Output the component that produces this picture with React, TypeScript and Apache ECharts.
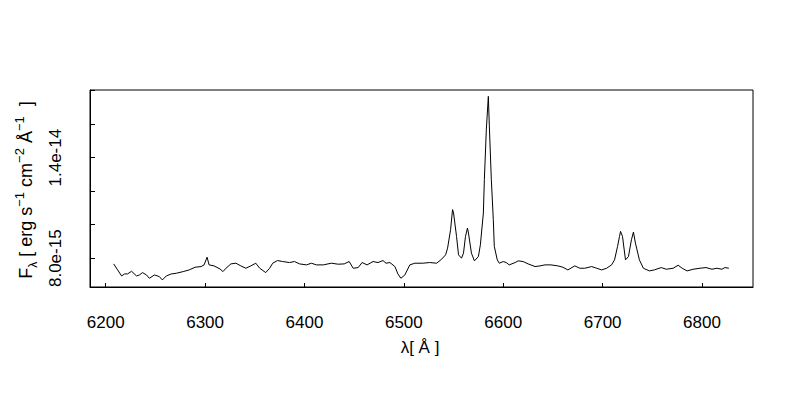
import React, { useEffect, useRef } from "react";
import * as echarts from "echarts";

// Wavelength in Å
const wavelength = [
  6208, 6212, 6216, 6219, 6222, 6226, 6231, 6234, 6237, 6241, 6244, 6249, 6254, 6257, 6261, 6266, 6271, 6278,
  6284, 6290, 6296, 6299, 6302, 6304, 6309, 6315, 6318, 6321, 6326, 6331, 6336, 6341, 6346, 6351, 6355, 6361,
  6365, 6368, 6373, 6378, 6385, 6390, 6395, 6402, 6407, 6412, 6419, 6427, 6434, 6440, 6445, 6449, 6454, 6458,
  6463, 6469, 6474, 6479, 6482, 6486, 6491, 6494, 6497, 6501, 6506, 6511, 6519, 6526,
  6533, 6538, 6542, 6544, 6547, 6549, 6550, 6553, 6555, 6558, 6560, 6562, 6564, 6565, 6568, 6571, 6575, 6577,
  6580, 6581, 6583, 6585, 6586, 6588, 6590, 6591, 6594, 6596, 6600, 6603, 6606, 6612, 6615, 6620, 6625, 6632,
  6637, 6642, 6648, 6655, 6660, 6665, 6672, 6677, 6682, 6689, 6694, 6699, 6704, 6709, 6712, 6715, 6717, 6718,
  6720, 6723, 6726, 6729, 6731, 6733, 6737, 6741, 6747, 6752, 6759, 6764, 6771, 6776, 6780, 6785, 6791, 6798,
  6804, 6810, 6815, 6820, 6823, 6827,
];

// Flux density in units of 1e-15 erg s^-1 cm^-2 Å^-1
const flux = [
  7.66, 7.3, 6.94, 7.06, 7.06, 7.22, 6.94, 7.0, 7.14, 7.0, 6.8, 7.0, 6.9, 6.7, 6.94, 7.06, 7.1, 7.2,
  7.3, 7.46, 7.5, 7.6, 8.06, 7.6, 7.54, 7.36, 7.2, 7.4, 7.66, 7.7, 7.54, 7.4, 7.54, 7.7, 7.4, 7.14,
  7.4, 7.7, 7.86, 7.8, 7.74, 7.8, 7.66, 7.6, 7.7, 7.6, 7.6, 7.7, 7.64, 7.66, 7.8, 7.4, 7.44, 7.74,
  7.6, 7.8, 7.74, 7.86, 7.7, 7.74, 7.5, 7.06, 6.8, 7.0, 7.6, 7.7, 7.7, 7.74,
  7.7, 7.94, 8.2, 8.6, 9.7, 10.9, 10.7, 9.3, 8.2, 8.0, 8.3, 9.3, 9.8, 9.5, 8.3, 7.84, 8.1, 8.8,
  10.7, 12.7, 15.7, 17.66, 15.9, 12.7, 10.3, 8.7, 7.9, 7.7, 7.8, 7.74, 7.6, 7.74, 7.84, 7.8, 7.66, 7.5,
  7.54, 7.6, 7.6, 7.54, 7.46, 7.3, 7.54, 7.4, 7.4, 7.5, 7.4, 7.3, 7.4, 7.6, 7.9, 8.7, 9.3, 9.6,
  9.3, 7.9, 8.1, 9.1, 9.56, 8.9, 7.9, 7.4, 7.24, 7.3, 7.44, 7.34, 7.4, 7.58, 7.4, 7.24, 7.34, 7.4,
  7.44, 7.34, 7.4, 7.34, 7.44, 7.4,
];

const FLUX_UNIT = 1e-15;
const xTickValues = [6200, 6300, 6400, 6500, 6600, 6700, 6800];
const yTickValues = [8, 10, 12, 14, 16, 18];
const yLabelValues = [8, 14];

const FONT = '"Liberation Sans", Arial, Helvetica, sans-serif';

export default function App() {
  const ref = useRef<HTMLDivElement>(null);

  useEffect(() => {
    if (!ref.current) return;
    const chart = echarts.init(ref.current, undefined, { renderer: "svg" });
    const data = wavelength.map((w, i) => [w, flux[i]]);
    chart.setOption({
      animation: false,
      backgroundColor: "#ffffff",
      grid: {
        left: 90,
        right: 47,
        top: 90,
        bottom: 113,
        show: true,
        borderColor: "#000",
        borderWidth: 1,
        backgroundColor: "transparent",
      },
      xAxis: {
        type: "value",
        min: 6184.2,
        max: 6851.3,
        axisLine: { show: true, lineStyle: { color: "#000", width: 1 } },
        axisTick: { show: true, inside: true, length: 4, lineStyle: { color: "#000" }, customValues: xTickValues },
        axisLabel: {
          show: true,
          customValues: xTickValues,
          margin: 27,
          color: "#000",
          fontSize: 17,
          fontFamily: FONT,
          formatter: (v: number) => String(v),
        },
        splitLine: { show: false },
      },
      yAxis: {
        type: "value",
        min: 6.28,
        max: 18.04,
        axisLine: { show: true, lineStyle: { color: "#000", width: 1 } },
        axisTick: { show: true, inside: true, length: 5, lineStyle: { color: "#000" }, customValues: yTickValues },
        axisLabel: {
          show: true,
          customValues: yLabelValues,
          rotate: 90,
          margin: 26,
          color: "#000",
          fontSize: 17,
          fontFamily: FONT,
          formatter: (v: number) => (v * FLUX_UNIT).toExponential(1),
        },
        splitLine: { show: false },
      },
      series: [
        {
          type: "line",
          data,
          showSymbol: false,
          symbol: "none",
          lineStyle: { color: "#000", width: 1 },
          silent: true,
        },
      ],
      graphic: [
        {
          type: "text",
          x: 420,
          y: 347,
          style: {
            text: "λ[ Å ]",
            fill: "#000",
            font: `17px ${FONT}`,
            align: "center",
            verticalAlign: "middle",
          },
        },
        {
          type: "text",
          x: 26,
          y: 190,
          rotation: Math.PI / 2,
          style: {
            text: "{m|F}{sub|λ}{m| [ erg s}{sup|−1}{m| cm}{sup|−2}{m| Å}{sup|−1}{m|  ]}",
            fill: "#000",
            align: "center",
            verticalAlign: "middle",
            rich: {
              m: { fontSize: 18, fontFamily: FONT, lineHeight: 26, verticalAlign: "middle", fill: "#000" },
              sub: { fontSize: 12, fontFamily: FONT, lineHeight: 12, verticalAlign: "bottom", fill: "#000" },
              sup: { fontSize: 13, fontFamily: FONT, lineHeight: 12, verticalAlign: "top", fill: "#000" },
            },
          },
        },
      ],
    });
    return () => chart.dispose();
  }, []);

  return (
    <div
      ref={ref}
      style={{ position: "fixed", left: 0, top: 0, width: 800, height: 400, background: "#fff" }}
    />
  );
}
